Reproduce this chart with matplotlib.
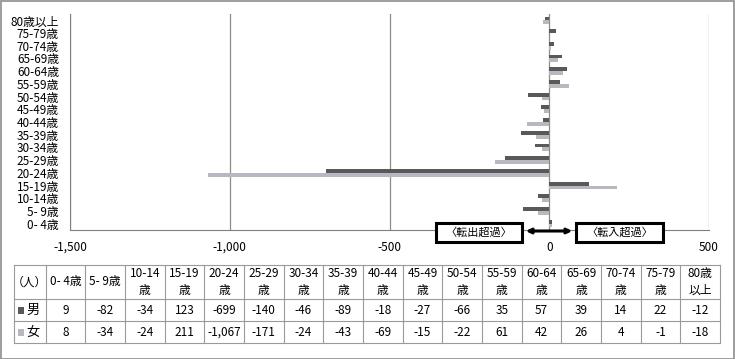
import numpy as np
import matplotlib
matplotlib.use("Agg")
import matplotlib.pyplot as plt
from matplotlib.patches import Rectangle, FancyArrowPatch

plt.rcParams['font.family'] = ['Noto Sans CJK JP', 'DejaVu Sans']

# データ
ages = ["0- 4歳", "5- 9歳", "10-14歳", "15-19歳", "20-24歳", "25-29歳", "30-34歳",
        "35-39歳", "40-44歳", "45-49歳", "50-54歳", "55-59歳", "60-64歳", "65-69歳",
        "70-74歳", "75-79歳", "80歳以上"]
header = ["0- 4歳", "5- 9歳", "10-14\n歳", "15-19\n歳", "20-24\n歳", "25-29\n歳", "30-34\n歳",
          "35-39\n歳", "40-44\n歳", "45-49\n歳", "50-54\n歳", "55-59\n歳", "60-64\n歳",
          "65-69\n歳", "70-74\n歳", "75-79\n歳", "80歳\n以上"]
male = [9, -82, -34, 123, -699, -140, -46, -89, -18, -27, -66, 35, 57, 39, 14, 22, -12]
female = [8, -34, -24, 211, -1067, -171, -24, -43, -69, -15, -22, 61, 42, 26, 4, -1, -18]
xticks = [-1500, -1000, -500, 0, 500]

W, H = 735, 359
c_male = "#595959"
c_female = "#b8b8c0"
grid_c = "#869086"

fig = plt.figure(figsize=(W / 100, H / 100), dpi=100)

def px(x0, y0, x1, y1):
    # ピクセル座標 -> figure座標
    return [x0 / W, 1 - y1 / H, (x1 - x0) / W, (y1 - y0) / H]

ax = fig.add_axes(px(70, 14, 709, 230))
y = np.arange(len(ages))
ax.barh(y + 0.15, male, height=0.3, color=c_male, zorder=3)
ax.barh(y - 0.15, female, height=0.3, color=c_female, zorder=3)
ax.set_xlim(-1500, 500)
ax.set_ylim(-0.5, len(ages) - 0.5)
ax.set_yticks(y)
ax.set_yticklabels(ages, fontsize=8.5)
ax.set_xticks(xticks)
ax.set_xticklabels(["{:,}".format(v) for v in xticks], fontsize=8.5)
ax.tick_params(length=0, pad=8)
ax.tick_params(axis='y', pad=8)
ax.grid(axis='x', color=grid_c, lw=0.9, zorder=1)
for s in ['top', 'right']:
    ax.spines[s].set_visible(False)
for s in ['left', 'bottom']:
    ax.spines[s].set_color("#808080")

# 転出超過 / 転入超過 の注記
for (x0, x1, txt) in [(436, 522, "〈転出超過〉"), (576, 663, "〈転入超過〉")]:
    fig.patches.append(Rectangle((x0 / W, 1 - 242 / H), (x1 - x0) / W, 19 / H,
                                 transform=fig.transFigure, facecolor="white",
                                 edgecolor="black", lw=2.2, zorder=5))
    fig.text((x0 + x1) / 2 / W, 1 - 232.5 / H, txt, fontsize=8,
             ha='center', va='center', zorder=6)
arr = FancyArrowPatch((523 / W, 1 - 231 / H), (575 / W, 1 - 231 / H),
                      transform=fig.transFigure, arrowstyle='<|-|>',
                      mutation_scale=7, lw=2.2, color="black", zorder=6)
fig.patches.append(arr)

# データ表
tab = fig.add_axes(px(14, 265, 720, 343))
tab.set_axis_off()
col_w = [31.5] + [(706 - 31.5) / 17] * 17
edges = np.concatenate([[0], np.cumsum(col_w)])
row_edges = [0, 22, 44, 78]  # 下から
tab.set_xlim(0, edges[-1])
tab.set_ylim(0, 78)
lc = "#9a9a9a"
for e in edges:
    tab.plot([e, e], [0, 78], color=lc, lw=0.8, clip_on=False)
for r in row_edges:
    tab.plot([0, edges[-1]], [r, r], color=lc, lw=0.8, clip_on=False)
cent = (edges[:-1] + edges[1:]) / 2
tab.text(cent[0], 61, "（人）", fontsize=8.5, ha='center', va='center')
for i, h in enumerate(header):
    tab.text(cent[i + 1], 61, h, fontsize=8.5, ha='center', va='center', linespacing=1.35)
    tab.text(cent[i + 1], 33, "{:,}".format(male[i]), fontsize=8.5, ha='center', va='center')
    tab.text(cent[i + 1], 11, "{:,}".format(female[i]), fontsize=8.5, ha='center', va='center')
tab.add_patch(Rectangle((4, 29.5), 6, 7, facecolor=c_male, edgecolor='none'))
tab.add_patch(Rectangle((4, 7.5), 6, 7, facecolor=c_female, edgecolor='none'))
tab.text(12, 33, "男", fontsize=9.5, va='center')
tab.text(12, 11, "女", fontsize=9.5, va='center')

# 外枠
fig.patches.append(Rectangle((0.5 / W, 0.5 / H), (W - 1.5) / W, (H - 1.5) / H,
                             transform=fig.transFigure, fill=False,
                             edgecolor="#8c8c8c", lw=1.2))

fig.savefig("out.png", dpi=100)
